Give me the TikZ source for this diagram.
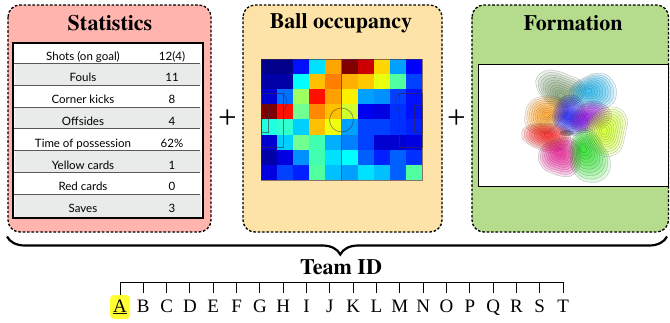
\documentclass[tikz,border=0pt]{standalone}
\usepackage{fontspec}
\setmainfont{Liberation Serif}
\newfontfamily\titlefont{texgyretermes-bold.otf}
\newfontfamily\tabfont{Lato}
\usetikzlibrary{decorations.pathreplacing}
\definecolor{statpink}{HTML}{FFB4AE}
\definecolor{ballpeach}{HTML}{FDE3A8}
\definecolor{formgreen}{HTML}{B4DC8C}
\definecolor{rowgray}{HTML}{E9EBEB}
\definecolor{hlyellow}{HTML}{FFFF33}
\definecolor{bgreen}{RGB}{110,150,100}
\definecolor{borange}{RGB}{255,150,0}
\definecolor{bpurple}{RGB}{150,0,230}
\definecolor{byellow}{RGB}{200,255,0}
\definecolor{bgreen2}{RGB}{0,220,0}
% outer cx, cy, peak px, py, rx, ry, phase, colour
\newcommand\blob[8]{%
  \foreach \k in {0,...,9}{%
    \pgfmathsetmacro\ff{\k/10}%
    \pgfmathsetmacro\ss{1-\k/10.6}%
    \pgfmathsetmacro\bx{#1+(#3-#1)*\ff}%
    \pgfmathsetmacro\by{#2+(#4-#2)*\ff}%
    \path[fill=#8, fill opacity=0.12, draw=black, draw opacity=0.28, line width=0.3pt]
      plot[smooth cycle, tension=0.7, variable=\t, samples at={0,30,...,330}]
      ({\bx+#5*\ss*(1+0.13*sin(2*\t+#7)+0.07*cos(3*\t+2*#7))*cos(\t)},
       {\by+#6*\ss*(1+0.13*sin(2*\t+#7)+0.07*cos(3*\t+2*#7))*sin(\t)});
  }}
\begin{document}
\begin{tikzpicture}[x=1pt,y=-1pt,
  panel/.style={draw=black, line width=1.3pt, dash pattern=on 2.6pt off 1.8pt, rounded corners=12pt},
  title/.style={font=\titlefont\fontsize{22}{24}\selectfont},
  cell/.style={font=\tabfont\fontsize{11.5}{12}\selectfont, anchor=base},
  pitch/.style={draw={rgb,255:red,60;green,40;blue,70}, draw opacity=0.6, line width=0.6pt},
  letter/.style={font=\fontsize{19}{20}\selectfont, anchor=base, inner sep=0pt},
  plussign/.style={font=\fontsize{33}{33}\selectfont, inner sep=0pt},
  tick/.style={line width=1pt},
]
\useasboundingbox (0,0) rectangle (670,322);

% panels
\path[panel, fill=statpink] (8,5) rectangle (211,232);
\path[panel, fill=ballpeach] (243,5) rectangle (442,232);
\path[panel, fill=formgreen] (472,5) rectangle (668.5,232);

\node[title] (tstat) at (110,23) {Statistics};
\node[title] (tball) at (341,23) {Ball occupancy};
\node[title] (tform) at (573,23) {Formation};

\node[plussign] (plus1) at (227.5,119) {+};
\node[plussign] (plus2) at (456.5,119) {+};

% table
\fill[white] (13,43) rectangle (203,218);
\foreach \i in {1,3,5}{
  \fill[rowgray] (15,{41.5+21.8*\i}) rectangle (201,{41.5+21.8*(\i+1)});
}
\fill[rowgray] (15,{41.5+21.8*7}) rectangle (201,216.5);
\foreach \i in {1,...,7}{
  \draw[black!65, line width=0.8pt] (14,{41.5+21.8*\i}) -- (200,{41.5+21.8*\i});
}
\draw[line width=1.4pt] (13,43) rectangle (203,218);
\foreach \a/\b [count=\i from 0] in {Shots (on goal)/12(4), Fouls/11, Corner kicks/8, Offsides/4,
  Time of possession/62\%, Yellow cards/1, Red cards/0, Saves/3}{
  \node[cell] (ra\i) at (83,{60+21.8*\i}) {\a};
  \node[cell] (rb\i) at (172,{60+21.8*\i}) {\b};
}

% heatmap
\foreach \c [count=\n from 0] in {
00008B,00008B,0010FF,00E0FF,FFA500,800000,CC0000,FFD700,00A0FF,0000FF,
0000A8,0000A8,00FFFF,FFC000,FF8000,FFB000,FFC800,E8FF10,50FFA0,0040FF,
0000D0,0070FF,A0FF60,FF1000,FFA000,FFF000,00A0FF,0090FF,0040FF,0010FF,
800000,FF1000,70FF90,FF8800,FFC000,D0FF30,0000F0,0000E0,0030FF,0010FF,
20FFE0,30FFD0,00D0FF,FFC000,F0FF10,00A0FF,0040FF,0040FF,0030FF,0020FF,
0000D0,00D0FF,70FF90,40FFB0,00B0FF,0080FF,0040FF,0000D0,0000D0,0000E0,
0000A8,0000E0,0090FF,40FFB0,00E0FF,00FFFF,0060FF,0020FF,0060FF,0030FF,
0000E0,0040FF,0020FF,50FFA0,00C0FF,00A0FF,00E0FF,00C0FF,0060FF,50FFA0}{
  \pgfmathtruncatemacro\cc{mod(\n,10)}
  \pgfmathtruncatemacro\rr{div(\n,10)}
  \definecolor{hc}{HTML}{\c}
  \fill[hc] ({261+\cc*16.1},{59+\rr*15.1}) rectangle ++(16.3,15.3);
}
% pitch lines
\draw[pitch] (261,59) rectangle (422,180);
\draw[pitch] (341.5,59) -- (341.5,180);
\draw[pitch] (341.5,120) circle [radius=12];
\draw[pitch] (261,93) rectangle (283,147);
\draw[pitch] (261,105) rectangle (268,132);
\draw[pitch] (283,111) arc [start angle=-50, end angle=50, x radius=11, y radius=-11];
\draw[pitch] (399,93) rectangle (422,147);
\draw[pitch] (414,105) rectangle (422,132);
\draw[pitch] (399,111) arc [start angle=230, end angle=130, x radius=11, y radius=-11];

% formation
\fill[white] (478,64) rectangle (668,186);
\begin{scope}
\clip (478,64) rectangle (668,186);
\blob{560}{89}{561}{96}{23}{19}{20}{bgreen}
\blob{594}{92}{588}{91}{21}{20}{110}{cyan}
\blob{545}{114}{547}{115}{22}{18}{200}{borange}
\blob{547}{137}{548}{135}{22}{16}{60}{red}
\blob{571}{116}{568}{117}{20}{18}{300}{blue}
\blob{591}{117}{587}{117}{19}{16}{150}{bpurple}
\blob{607}{131}{604}{131}{23}{22}{250}{byellow}
\blob{561}{157}{560}{152}{19}{22}{90}{magenta}
\blob{589}{157}{583}{148}{21}{25}{330}{bgreen2}
\fill[black, opacity=0.3] (567,133) ellipse [x radius=7, y radius=3];
\end{scope}
\draw[line width=0.9pt] (478,64) rectangle (668,186);

% brace
\coordinate (bl) at (7,236.5);
\coordinate (br) at (667,236.5);
\draw[decorate, decoration={brace, amplitude=18pt, mirror, aspect=0.505}, line width=2.2pt] (bl) -- (br);
\node[title] (teamid) at (341,267) {Team ID};

% ruler
\fill[hlyellow, rounded corners=4pt] (110,295) rectangle (130,319);
\foreach \L [count=\i from 0] in {A,B,C,D,E,F,G,H,I,J,K,L,M,N,O,P,Q,R,S,T}{
  \coordinate (k\i) at ({120+23.32*\i},282);
  \draw[tick] (k\i) -- ++(0,11);
  \ifnum\i=0
    \node[letter] (L\i) at ({120+23.32*\i},312) {\underline{\L}};
  \else
    \node[letter] (L\i) at ({120+23.32*\i},312) {\L};
  \fi
}
\draw[tick] (k0) -- (k19);
\draw[tick] (k0) -- ++(0,13);
\end{tikzpicture}
\end{document}
